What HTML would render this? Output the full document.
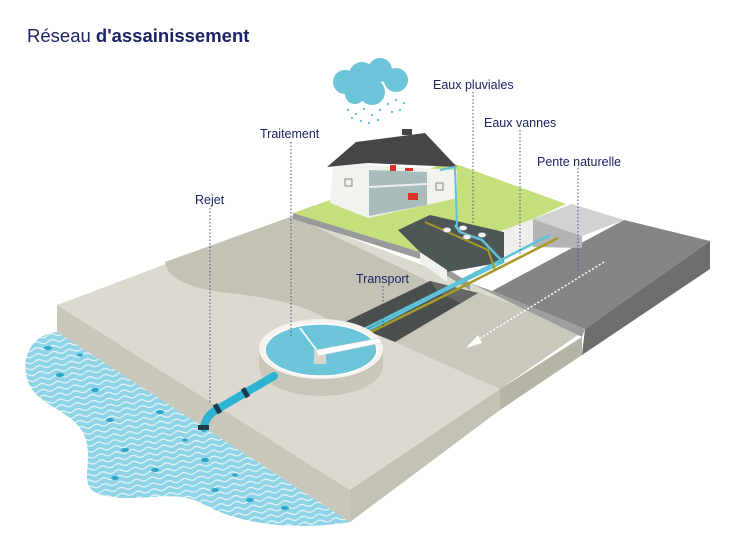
<!DOCTYPE html>
<html><head><meta charset="utf-8"><style>
html,body{margin:0;padding:0;background:#fff;}
svg{display:block;}
text{font-family:"Liberation Sans",sans-serif;fill:#1b2464;}
</style></head><body>
<svg width="740" height="555" viewBox="0 0 740 555" xmlns="http://www.w3.org/2000/svg">
<defs>
<pattern id="wv" width="16" height="6" patternUnits="userSpaceOnUse" patternTransform="rotate(-8)">
<rect width="16" height="6" fill="#8fd3e6"/>
<path d="M0,3 Q4,0 8,3 T16,3" fill="none" stroke="#e9f7fb" stroke-width="1.1"/>
</pattern>
</defs>
<text x="27" y="42" font-size="18.5" style="font-weight:300">Réseau <tspan font-weight="bold">d'assainissement</tspan></text>

<!-- water -->
<path d="M57,332 C30,334 18,362 30,386 C42,408 78,412 86,440 C94,470 72,492 112,497 C150,502 175,488 205,505 C235,522 290,532 350,522 Z" fill="url(#wv)"/>
<g fill="#2ea7c8">
<ellipse cx="48" cy="348" rx="4" ry="2"/><ellipse cx="60" cy="375" rx="4" ry="2"/><ellipse cx="95" cy="390" rx="4" ry="2"/>
<ellipse cx="110" cy="420" rx="4" ry="2"/><ellipse cx="160" cy="412" rx="4" ry="2"/><ellipse cx="125" cy="450" rx="4" ry="2"/>
<ellipse cx="155" cy="470" rx="4" ry="2"/><ellipse cx="205" cy="460" rx="4" ry="2"/><ellipse cx="115" cy="478" rx="4" ry="2"/>
<ellipse cx="215" cy="490" rx="4" ry="2"/><ellipse cx="250" cy="500" rx="4" ry="2"/><ellipse cx="285" cy="508" rx="4" ry="2"/>
<ellipse cx="185" cy="440" rx="3" ry="1.6"/><ellipse cx="80" cy="355" rx="3" ry="1.6"/><ellipse cx="235" cy="475" rx="3" ry="1.6"/>
</g>

<!-- road -->
<polygon points="492,291 624,220 710,241 585,329" fill="#858585"/>
<polygon points="585,329 710,241 710,269 582,355" fill="#6d6d6d"/>
<!-- back light sidewalk -->
<polygon points="533,219 572,204 624,220 582,236" fill="#d2d2d2"/>
<polygon points="533,219 582,236 582,248 533,247" fill="#b4b4b4"/>

<!-- slab -->
<polygon points="57,305 293,216 470,283 585,330 500,389 350,490" fill="#dcdad0"/>
<polygon points="57,305 350,490 350,522 57,332" fill="#c9c6ba"/>
<polygon points="350,490 500,389 500,410 350,522" fill="#c3c0b4"/>
<polygon points="500,389 582,337 582,355 500,410" fill="#b6b3a7"/>
<polygon points="395,342 478,292 585,330 500,389" fill="#cac8bc"/>
<path d="M165,262 Q168,286 228,293 Q300,300 332,322 L345,322 L430,282 L293,216 Z" fill="#c4c1b5"/>
<polygon points="470,283 492,291 585,329 582,337" fill="#9e9e9e"/>

<!-- lawn -->
<polygon points="293,213 330,200 450,162 566,204 533,219 504,230 420,252" fill="#c4df7c"/>
<polygon points="293,213 420,252 470,283 470,290 420,259 293,219" fill="#9a9a9a"/>
<!-- pit -->
<polygon points="504,230 533,219 533,247 504,256" fill="#eeeeea"/>
<polygon points="398,230 430,215 504,232 504,262 447,272 420,252" fill="#4e5656"/>
<polygon points="420,252 447,270 447,282 420,262" fill="#f0f0ec"/>

<!-- trench -->
<polygon points="345,322 430,281 478,293 395,342" fill="#4a4e4e"/>
<polygon points="430,281 478,293 460,303 438,292" fill="#666"/>

<!-- pipes -->
<polyline points="455,225 460,232 482,240 503,262 442,292 330,350" fill="none" stroke="#5cc3d8" stroke-width="2.5"/>
<polyline points="550,235 442,290 330,346" fill="none" stroke="#5cc3d8" stroke-width="2.5"/>
<polyline points="425,222 488,250 495,270" fill="none" stroke="#a79a2a" stroke-width="2"/>
<polyline points="558,238 450,293 330,352" fill="none" stroke="#a79a2a" stroke-width="2.5"/>
<g fill="#f4f4f0" stroke="#999" stroke-width="0.6">
<ellipse cx="447" cy="230" rx="4" ry="2.5"/><ellipse cx="463" cy="228" rx="4" ry="2.5"/><ellipse cx="467" cy="237" rx="4" ry="2.5"/><ellipse cx="482" cy="235" rx="4" ry="2.5"/>
</g>

<!-- tank -->
<path d="M259,349 L259,366 A62,30 0 0 0 383,366 L383,349 Z" fill="#c9c6ba"/>
<ellipse cx="321" cy="349" rx="62" ry="30" fill="#f4f3ee"/>
<ellipse cx="321" cy="350" rx="56" ry="26" fill="#6cc5d8"/>
<ellipse cx="321" cy="350" rx="56" ry="26" fill="none" stroke="#fff" stroke-width="1.5"/>
<rect x="314" y="350" width="12" height="14" fill="#d8d6cc"/>
<line x1="300" y1="328" x2="318" y2="352" stroke="#fff" stroke-width="1.5"/>
<polygon points="316,350 380,338 381,343 318,356" fill="#fff" stroke="#ccc" stroke-width="0.5"/>

<!-- discharge pipe -->
<path d="M274,376 L216,410 Q205,417 204,428" fill="none" stroke="#2eb2d2" stroke-width="8" stroke-linecap="round"/>
<rect x="198" y="425" width="11" height="5" fill="#1d3a4a"/>
<rect x="215" y="404" width="5" height="10" fill="#1d3a4a" transform="rotate(-30 217 409)"/>
<rect x="243" y="388" width="5" height="10" fill="#1d3a4a" transform="rotate(-30 245 393)"/>

<!-- house -->
<polygon points="330,203 333,165 356,145 368,163 368,218" fill="#f2f2ee"/>
<polygon points="368,218 368,165 457,170 457,198 427,205" fill="#f2f2ee"/>
<polygon points="369,170 427,172 427,205 369,216" fill="#a9bcbc"/>
<line x1="369" y1="187" x2="427" y2="184" stroke="#eee" stroke-width="2"/>
<polygon points="327,167 356,142 425,133 457,167 367,163" fill="#464646"/>
<rect x="402" y="129" width="10" height="6" fill="#464646"/>
<rect x="345" y="179" width="7" height="7" fill="none" stroke="#888" stroke-width="1"/>
<rect x="436" y="183" width="7" height="7" fill="none" stroke="#888" stroke-width="1"/>
<rect x="408" y="193" width="10" height="7" fill="#d9322a"/><rect x="390" y="165" width="6" height="6" fill="#d9322a"/><rect x="405" y="168" width="8" height="3" fill="#d9322a"/>
<polyline points="440,170 455,167 457,228" fill="none" stroke="#5cc3d8" stroke-width="2"/>

<!-- cloud -->
<g fill="#6cc5d8">
<circle cx="345" cy="82" r="12"/><circle cx="362" cy="75" r="13"/><circle cx="380" cy="70" r="12"/><circle cx="396" cy="80" r="12"/><circle cx="372" cy="92" r="13"/><circle cx="355" cy="94" r="10"/>
</g>
<g fill="#6cc5d8">
<circle cx="348" cy="110" r="1.2"/><circle cx="356" cy="114" r="1.2"/><circle cx="364" cy="109" r="1.2"/><circle cx="372" cy="115" r="1.2"/><circle cx="380" cy="110" r="1.2"/><circle cx="388" cy="104" r="1.2"/><circle cx="396" cy="100" r="1.2"/><circle cx="404" cy="103" r="1.2"/><circle cx="361" cy="121" r="1.2"/><circle cx="369" cy="123" r="1.2"/><circle cx="378" cy="120" r="1.2"/><circle cx="392" cy="112" r="1.2"/><circle cx="352" cy="118" r="1.2"/><circle cx="400" cy="110" r="1.2"/>
</g>

<!-- arrow -->
<line x1="604" y1="262" x2="474" y2="342" stroke="#fff" stroke-width="1.5" stroke-dasharray="2,2"/>
<polygon points="466,348 478,335 482,343" fill="#fff"/>

<!-- dotted leader lines -->
<g stroke="#4a4f86" stroke-width="1" stroke-dasharray="1.5,2">
<line x1="473" y1="92" x2="473" y2="230"/>
<line x1="520" y1="130" x2="520" y2="254"/>
<line x1="578" y1="168" x2="578" y2="271"/>
<line x1="291" y1="142" x2="291" y2="338"/>
<line x1="210" y1="208" x2="210" y2="402"/>
<line x1="383" y1="286" x2="383" y2="330"/>
</g>

<g font-size="12.5">
<text x="433" y="89">Eaux pluviales</text>
<text x="484" y="127">Eaux vannes</text>
<text x="537" y="166">Pente naturelle</text>
<text x="260" y="138">Traitement</text>
<text x="195" y="204">Rejet</text>
<text x="356" y="283">Transport</text>
</g>
</svg>
</body></html>
